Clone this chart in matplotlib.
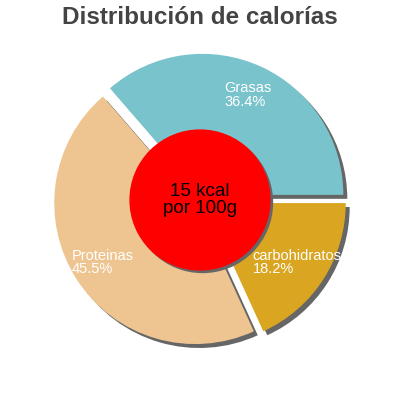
import matplotlib
matplotlib.use("Agg")
import matplotlib.pyplot as plt
from matplotlib.patches import Circle

categories = ["Grasas", "Proteinas", "carbohidratos"]
percentages = [36.4, 45.5, 18.2]
colors = ["#79C3CC", "#EEC591", "#DAA520"]
title = "Distribución de calorías"
center_text = "15 kcal\npor 100g"

plt.rcParams['font.family'] = ['Liberation Sans', 'DejaVu Sans']

fig = plt.figure(figsize=(4, 4), dpi=100)
ax = fig.add_axes([0, 0, 1, 1])
ax.set_aspect('equal')
lim = 200 / 141

explode = [0.04] * len(percentages)
sh = 0.028
# shadow
ax.pie(percentages, colors=["#666666"] * 3, startangle=0, explode=explode,
       center=(sh, -sh), radius=1, frame=True)
wedges, texts = ax.pie(percentages, colors=colors, startangle=0, explode=explode,
                       labels=[f"{c}\n{p}%" for c, p in zip(categories, percentages)],
                       labeldistance=0.78, radius=1, frame=True,
                       textprops=dict(color="white", fontsize=10.5))
for t in texts:
    t.set_ha('center')
    t.set_va('center')
    t.set_multialignment('left')
    t.set_linespacing(0.95)

ax.set_xlim(-lim, lim)
ax.set_ylim(-lim, lim)
ax.axis('off')

ax.add_patch(Circle((0.018, -0.018), 0.496, color="#666666", zorder=5))
ax.add_patch(Circle((0, 0), 0.496, color="#FF0000", zorder=6))
ax.text(0, 0, center_text, ha='center', va='center', fontsize=13.5,
        color='black', zorder=7, linespacing=1.0)

fig.text(0.5, 0.957, title, ha='center', va='center', fontsize=17.5,
         fontweight='bold', color='#444444')

fig.savefig("out.png", dpi=100)
